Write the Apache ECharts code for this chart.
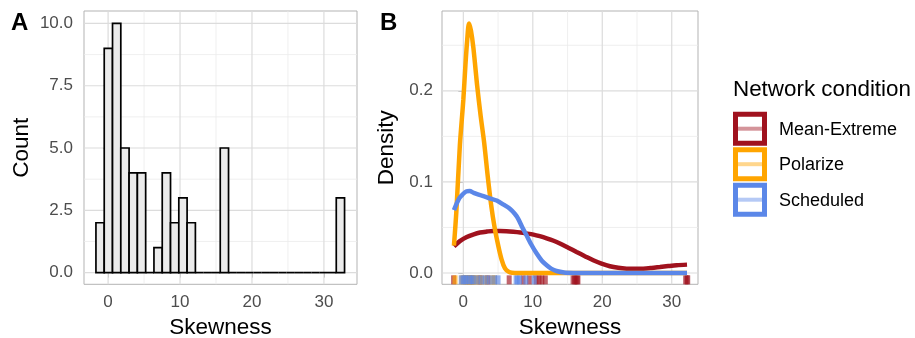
<!DOCTYPE html>
<html><head><meta charset="utf-8">
<script src="https://cdn.jsdelivr.net/npm/echarts@6/dist/echarts.min.js"></script>
<style>html,body{margin:0;padding:0;background:#fff}#c{width:915px;height:338px}</style>
</head><body><div id="c"></div>
<script>
// ---------- data ----------
const groupNames = ['Mean-Extreme', 'Polarize', 'Scheduled'];
const groupColors = ['#A0121E', '#FFA500', '#5B87E8'];

const histBinStart = -1.69;
const histBinWidth = 1.152;
const histCounts = [2, 9, 10, 5, 4, 4, 0, 1, 4, 2, 3, 2, 0, 0, 0, 5,
  0, 0, 0, 0, 0, 0, 0, 0, 0, 0, 0, 0, 0, 3];

const densityMeanExtreme = [[-1.35, 0.0293], [-0.5, 0.035], [0.5, 0.0396], [1.5, 0.0425], [2.4, 0.0444],
  [3.4, 0.0455], [4.3, 0.0462], [5.3, 0.0461], [6.2, 0.0458], [7.2, 0.0452], [8.2, 0.0444], [9.1, 0.0434],
  [10.1, 0.0421], [11.0, 0.0404], [12.0, 0.0381], [13.0, 0.0354], [13.9, 0.0324], [15.1, 0.0278],
  [16.3, 0.0231], [17.5, 0.0185], [18.7, 0.014], [19.9, 0.0103], [21.1, 0.0074], [22.3, 0.0057],
  [23.5, 0.0048], [24.7, 0.0046], [25.9, 0.0048], [27.1, 0.0056], [28.3, 0.0066], [29.5, 0.0076],
  [30.7, 0.0085], [32.2, 0.0092]];
const densityPolarize = [[-1.35, 0.030], [-1.0, 0.068], [-0.5, 0.140], [0.0, 0.190], [0.3, 0.228],
  [0.55, 0.255], [0.82, 0.274], [1.1, 0.266], [1.45, 0.247], [2.0, 0.205], [2.5, 0.172], [3.0, 0.143],
  [3.5, 0.107], [4.0, 0.075], [4.5, 0.050], [5.0, 0.031], [5.5, 0.015], [6.0, 0.005], [6.5, 0.0015],
  [7.0, 0.0003], [8.0, 0], [10.0, 0], [14.0, 0], [18.0, 0], [22.0, 0], [26.0, 0], [30.0, 0], [32.2, 0]];
const densityScheduled = [[-1.35, 0.069], [-0.6, 0.082], [0.0, 0.087], [0.4, 0.0895], [0.9, 0.090],
  [1.5, 0.088], [2.2, 0.086], [2.9, 0.0845], [3.8, 0.082], [4.8, 0.0795], [5.8, 0.075], [6.7, 0.0705],
  [7.4, 0.065], [7.9, 0.0595], [8.5, 0.050], [9.1, 0.0414], [9.8, 0.031], [10.56, 0.0213], [11.3, 0.0135],
  [12.0, 0.0085], [12.7, 0.0045], [13.4, 0.0022], [14.5, 0.0006], [16.0, 0.0001], [18.0, 0], [22.0, 0],
  [26.0, 0], [30.0, 0], [32.2, 0]];

const rugMeanExtreme = [-1.4, 2.4, 3.5, 6.6, 8.6, 9.5, 10.5, 10.9, 11.3, 11.8, 15.8, 16.0, 16.2, 16.4, 16.5, 32.0, 32.2, 32.3];
const rugPolarize = [-1.2, -0.2, 0.1, 0.3, 0.5, 0.6, 0.8, 0.9, 1.0, 1.2, 1.3, 1.5, 1.7, 2.2, 2.6, 3.3, 4.2, 4.5];
const rugScheduled = [-0.3, 0.0, 0.3, 0.5, 0.9, 1.2, 1.4, 2.0, 2.6, 3.2, 3.8, 4.5, 5.0, 7.6, 7.8, 8.1, 9.0, 10.2];

const xTicks = [0, 10, 20, 30];
const countTicks = [0, 2.5, 5, 7.5, 10];
const densityTicks = [0, 0.1, 0.2];

// ---------- layout / style ----------
const FONT = 'Liberation Sans, Arial, Helvetica, sans-serif';
const A = { xMin: -3.35, xMax: 34.6, yMin: -0.47, yMax: 10.5 };
const B = { xMin: -3.07, xMax: 33.78, yMin: -0.0124, yMax: 0.2876 };
const rugY = -0.0075;

function minorOf(ticks, lo, hi) {
  const step = ticks[1] - ticks[0];
  const out = [];
  for (let i = -1; i < ticks.length; i++) {
    const m = ticks[0] + (i + 0.5) * step;
    if (m > lo && m < hi) out.push(m);
  }
  return out;
}
function gridData(xt, yt, r) {
  const d = [];
  minorOf(xt, r.xMin, r.xMax).forEach(v => d.push([0, v, 0]));
  minorOf(yt, r.yMin, r.yMax).forEach(v => d.push([1, v, 0]));
  xt.forEach(v => d.push([0, v, 1]));
  yt.forEach(v => d.push([1, v, 1]));
  return d;
}
function gridRender(r) {
  return function (params, api) {
    const dir = api.value(0), v = api.value(1), major = api.value(2);
    let p1, p2;
    if (dir === 0) { p1 = api.coord([v, r.yMin]); p2 = api.coord([v, r.yMax]); }
    else { p1 = api.coord([r.xMin, v]); p2 = api.coord([r.xMax, v]); }
    return {
      type: 'line', silent: true,
      shape: { x1: p1[0], y1: p1[1], x2: p2[0], y2: p2[1] },
      style: { stroke: major ? '#DCDCDC' : '#EBEBEB', lineWidth: major ? 1.2 : 0.8 }
    };
  };
}
const histData = histCounts.map((c, i) => [histBinStart + i * histBinWidth, histBinStart + (i + 1) * histBinWidth, c]);

function axisX(idx, r) {
  return {
    gridIndex: idx, type: 'value', min: r.xMin, max: r.xMax,
    axisLine: { show: false }, splitLine: { show: false },
    axisTick: { show: true, customValues: xTicks, length: 5, lineStyle: { color: '#B3B3B3', width: 1 } },
    axisLabel: { customValues: xTicks, color: '#4D4D4D', fontSize: 17, fontFamily: FONT, margin: 10 },
    name: 'Skewness', nameLocation: 'middle', nameGap: 29,
    nameTextStyle: { fontSize: 22.5, color: '#000', fontFamily: FONT }
  };
}
function axisY(idx, r, ticks, name, gap, lmargin, fmt) {
  return {
    gridIndex: idx, type: 'value', min: r.yMin, max: r.yMax,
    axisLine: { show: false }, splitLine: { show: false },
    axisTick: { show: true, customValues: ticks, length: 5, lineStyle: { color: '#B3B3B3', width: 1 } },
    axisLabel: { customValues: ticks, color: '#4D4D4D', fontSize: 17, fontFamily: FONT, margin: lmargin, formatter: fmt },
    name: name, nameLocation: 'middle', nameGap: gap,
    nameTextStyle: { fontSize: 22.5, color: '#000', fontFamily: FONT }
  };
}

const densities = [densityMeanExtreme, densityPolarize, densityScheduled];
const rugs = [rugMeanExtreme, rugPolarize, rugScheduled];

const series = [
  { type: 'custom', xAxisIndex: 0, yAxisIndex: 0, z: 1, silent: true, renderItem: gridRender(A), data: gridData(xTicks, countTicks, A), encode: { x: 1, y: 1 } },
  { type: 'custom', xAxisIndex: 1, yAxisIndex: 1, z: 1, silent: true, renderItem: gridRender(B), data: gridData(xTicks, densityTicks, B), encode: { x: 1, y: 1 } },
  {
    type: 'custom', xAxisIndex: 0, yAxisIndex: 0, z: 5, data: histData, encode: { x: [0, 1], y: 2 },
    renderItem: function (params, api) {
      const p0 = api.coord([api.value(0), 0]);
      const p1 = api.coord([api.value(1), api.value(2)]);
      if (api.value(2) === 0) {
        return { type: 'line', shape: { x1: p0[0], y1: p0[1], x2: p1[0], y2: p0[1] }, style: { stroke: '#000', lineWidth: 1.7 } };
      }
      return {
        type: 'rect',
        shape: { x: p0[0], y: p1[1], width: p1[0] - p0[0], height: p0[1] - p1[1] },
        style: { fill: '#EBEBEB', stroke: '#000', lineWidth: 1.7 }
      };
    }
  }
];
rugs.forEach((d, i) => {
  series.push({
    type: 'scatter', xAxisIndex: 1, yAxisIndex: 1, z: 4, symbol: 'rect', symbolSize: [5, 9],
    data: d.map(v => [v, rugY]),
    itemStyle: { color: groupColors[i], opacity: 0.65 }
  });
});
densities.forEach((d, i) => {
  series.push({
    type: 'line', name: groupNames[i], xAxisIndex: 1, yAxisIndex: 1, z: 5 + i,
    data: d, showSymbol: false, symbol: 'none', smooth: 0.3,
    lineStyle: { color: groupColors[i], width: 4.5 }
  });
});

// panel tags + legend (drawn as graphic, built from names/colors)
const graphic = [
  { type: 'text', left: 11, top: 11, style: { text: 'A', font: 'bold 24px ' + FONT, fill: '#000' } },
  { type: 'text', left: 380, top: 11, style: { text: 'B', font: 'bold 24px ' + FONT, fill: '#000' } },
  { type: 'text', x: 733, y: 90, style: { text: 'Network condition', font: '22.4px ' + FONT, fill: '#000', verticalAlign: 'middle' } }
];
groupNames.forEach((n, i) => {
  const cy = 128.7 + i * 35.5;
  graphic.push({ type: 'rect', shape: { x: 735.5, y: cy - 14.5, width: 29, height: 29 }, style: { fill: '#fff', stroke: groupColors[i], lineWidth: 5 } });
  graphic.push({ type: 'line', shape: { x1: 738, y1: cy, x2: 762, y2: cy }, style: { stroke: groupColors[i], lineWidth: 4, opacity: 0.45 } });
  graphic.push({ type: 'text', x: 779, y: cy + 1, style: { text: n, font: '18px ' + FONT, fill: '#000', verticalAlign: 'middle' } });
});

const chart = echarts.init(document.getElementById('c'), null, { renderer: 'canvas' });
chart.setOption({
  animation: false,
  backgroundColor: '#fff',
  grid: [
    { left: 84, top: 11, width: 273, height: 273.3, show: true, borderColor: '#B3B3B3', borderWidth: 1, backgroundColor: 'transparent', containLabel: false, outerBoundsMode: 'none' },
    { left: 442, top: 11, width: 256, height: 273.3, show: true, borderColor: '#B3B3B3', borderWidth: 1, backgroundColor: 'transparent', containLabel: false, outerBoundsMode: 'none' }
  ],
  xAxis: [axisX(0, A), axisX(1, B)],
  yAxis: [
    axisY(0, A, countTicks, 'Count', 51, 11, v => v.toFixed(1)),
    axisY(1, B, densityTicks, 'Density', 44, 9, v => v.toFixed(1))
  ],
  series: series,
  graphic: graphic
});
</script></body></html>
